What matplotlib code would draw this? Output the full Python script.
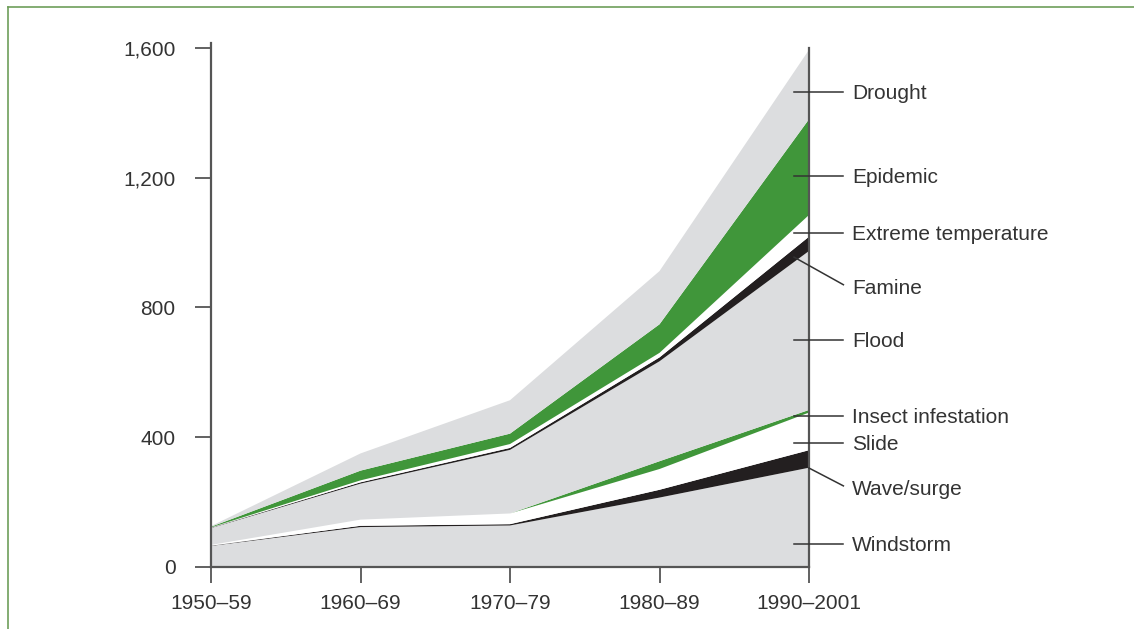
import matplotlib.pyplot as plt
from matplotlib.lines import Line2D
import numpy as np

plt.rcParams['font.family'] = ['Liberation Sans', 'DejaVu Sans']

decades = ['1950–59', '1960–69', '1970–79', '1980–89', '1990–2001']

# values per disaster type, stacked bottom to top
windstorm = [65, 123, 128, 214, 306]
wave_surge = [1, 4, 4, 24, 54]
slide = [2, 19, 33, 64, 116]
insect = [0, 0, 0, 24, 8]
flood = [52, 111, 196, 308, 490]
famine = [1, 4, 6, 12, 44]
extreme_temp = [1, 6, 12, 14, 67]
epidemic = [2, 30, 32, 88, 295]
drought = [2, 53, 103, 164, 214]

names = ['Windstorm', 'Wave/surge', 'Slide', 'Insect infestation', 'Flood',
         'Famine', 'Extreme temperature', 'Epidemic', 'Drought']
series = [windstorm, wave_surge, slide, insect, flood,
          famine, extreme_temp, epidemic, drought]

GREY = '#dcdddf'
GREEN = '#40963a'
BLACK = '#231f20'
WHITE = '#ffffff'
colors = [GREY, BLACK, WHITE, GREEN, GREY, BLACK, WHITE, GREEN, GREY]

# where the right-hand labels sit (data units) and where diagonal leaders start
label_y = {'Drought': 1460, 'Epidemic': 1200, 'Extreme temperature': 1024,
           'Famine': 858, 'Flood': 694, 'Insect infestation': 460,
           'Slide': 377, 'Wave/surge': 238, 'Windstorm': 66}
leader_start = {'Famine': (3.9, 955), 'Wave/surge': (4.0, 305)}

AXC = '#555555'
TXT = '#333333'

fig = plt.figure(figsize=(11.34, 6.29), dpi=100)
ax = fig.add_axes([211 / 1134, 62 / 629, 598 / 1134, 524 / 629])

x = np.arange(len(decades))
ax.stackplot(x, *series, colors=colors, linewidth=0, antialiased=True)

ax.set_xlim(0, 4)
ax.set_ylim(0, 1615)
ax.set_yticks([0, 400, 800, 1200, 1600])
ax.set_yticklabels(['0', '400', '800', '1,200', '1,600'])
ax.set_xticks(x)
ax.set_xticklabels(decades)

ax.spines['top'].set_visible(False)
for s in ['left', 'right', 'bottom']:
    ax.spines[s].set_color(AXC)
    ax.spines[s].set_linewidth(1.6)
    ax.spines[s].set_zorder(5)
ax.spines['right'].set_bounds(0, 1600)

ax.tick_params(axis='y', direction='out', length=11.5, width=1.3, color=AXC,
               pad=14, labelsize=15, labelcolor=TXT)
ax.tick_params(axis='x', direction='out', length=11.5, width=1.3, color=AXC,
               pad=8, labelsize=15, labelcolor=TXT)

# right-hand labels with leader lines
for name in names:
    y = label_y[name]
    if name in leader_start:
        x0, y0 = leader_start[name]
        ax.plot([x0, 4.23], [y0, y + 12], color=TXT, lw=1.1,
                clip_on=False, zorder=6)
    else:
        ax.plot([3.9, 4.23], [y + 5, y + 5], color=TXT, lw=1.1,
                clip_on=False, zorder=6)
    ax.text(4.29, y, name, fontsize=15, color=TXT, va='center', ha='left',
            clip_on=False)

# thin green frame at top and left
fig.add_artist(Line2D([8 / 1134, 1], [1 - 7 / 629, 1 - 7 / 629],
                      color='#6e9e5a', lw=1.2, transform=fig.transFigure))
fig.add_artist(Line2D([8 / 1134, 8 / 1134], [0, 1 - 7 / 629],
                      color='#6e9e5a', lw=1.2, transform=fig.transFigure))

fig.savefig('out.png', dpi=100)
